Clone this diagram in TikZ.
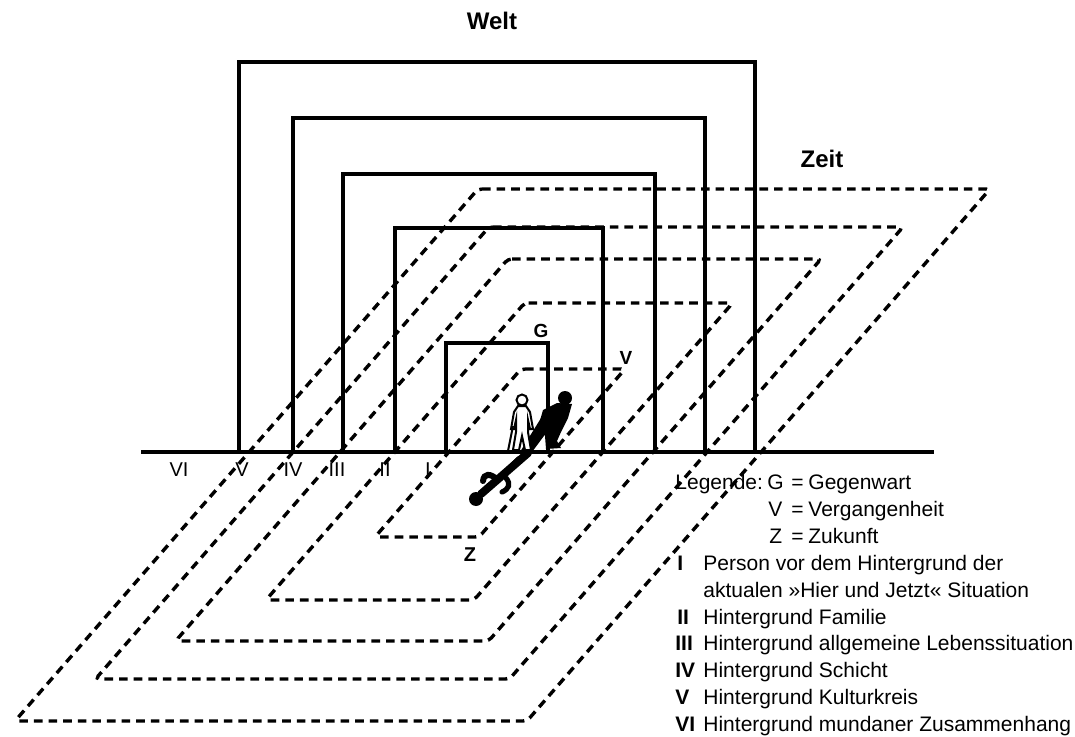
\documentclass[tikz,border=0pt]{standalone}
\usepackage{fontspec}
\setmainfont{Liberation Sans}
\begin{document}
\begin{tikzpicture}[x=0.5pt,y=-0.5pt,
  solidline/.style={line width=1.6pt, line join=miter},
  dashline/.style={line width=1.7pt, dash pattern=on 4.3pt off 3pt, rounded corners=2pt},
  lbl/.style={inner sep=0pt, font=\fontsize{10}{12}\selectfont},
  small/.style={inner sep=0pt, font=\fontsize{9.5}{11}\selectfont\bfseries},
  zlbl/.style={inner sep=0pt, font=\fontsize{10}{12}\selectfont\bfseries},
  big/.style={inner sep=0pt, font=\fontsize{12}{14}\selectfont\bfseries},
  leg/.style={inner sep=0pt, anchor=base west, font=\fontsize{10.5}{13}\selectfont},
  legnum/.style={leg, font=\fontsize{10.5}{13}\selectfont\bfseries},
]
\useasboundingbox (0,0) rectangle (1075,737);

% ground line
\coordinate (gl) at (141,452);
\coordinate (gr) at (934,452);
\draw[solidline] (gl) -- (gr);

% nested open rectangles (Welt)
\draw[solidline] (446,452) -- (446,343) -- (548,343) -- (548,452);
\draw[solidline] (395,452) -- (395,228) -- (603,228) -- (603,452);
\draw[solidline] (343,452) -- (343,174) -- (655,174) -- (655,452);
\draw[solidline] (293,452) -- (293,118) -- (705,118) -- (705,452);
\draw[solidline] (239,452) -- (239,62) -- (755,62) -- (755,452);

% dashed parallelograms (Zeit)
\draw[dashline] (521,369) -- (625,369) -- (479,537) -- (375,537) -- cycle;
\draw[dashline] (524.6,303) -- (732.6,303) -- (474,600) -- (266,600) -- cycle;
\draw[dashline] (508,259) -- (821,259) -- (488.6,641) -- (175.6,641) -- cycle;
\draw[dashline] (489,227) -- (903,227) -- (509.5,679) -- (95.5,679) -- cycle;
\draw[dashline] (478,189) -- (990,189) -- (527,721) -- (15,721) -- cycle;

% person with shadows
% black figure behind
\fill (565,398) circle (7);
\fill (557,403) -- (572,404) -- (568,418) -- (561,432) -- (557,441) -- (561,448) -- (546,449)
      -- (545,436) -- (539,424) -- (543,410) -- cycle;
% diagonal dark band
\fill (546,410) -- (558,417) -- (532,452) -- (520,452) -- cycle;
% ground shadow
\draw[line width=4pt, line cap=round] (528,453) -- (481,494);
\draw[line width=3pt, line cap=round] (519,459) -- (498,480) .. controls (490,473) and (484,473) .. (483,481);
\draw[line width=2.6pt, line cap=round] (506,478) .. controls (511,484) and (509,489) .. (502,492);
\fill (476,499) circle (7);
% white person
\filldraw[fill=white, line width=1pt] (522,400) circle (5.5);
\filldraw[fill=white, line width=1pt]
  (518,406) -- (526,406) -- (530,412) -- (533,429) -- (530,429) -- (528,420)
  -- (528,432) -- (531,450) -- (525,450) -- (522,436) -- (519,450) -- (513,450)
  -- (516,432) -- (516,420) -- (514,429) -- (511,429) -- (514,412) -- cycle;
\draw[line width=1pt] (513,426) -- (508,451);

% labels
\node[big] (welt) at (492,21) {Welt};
\node[big] (zeit) at (822,159) {Zeit};
\node[small] (g) at (541,331) {G};
\node[small] (v) at (626,358) {V};
\node[zlbl] (z) at (470,555) {Z};
\node[lbl] (r6) at (179,470) {VI};
\node[lbl] (r5) at (242,470) {V};
\node[lbl] (r4) at (293,470) {IV};
\node[lbl] (r3) at (337,470) {III};
\node[lbl] (r2) at (385,470) {II};
\node[lbl] (r1) at (428,470) {I};

% legend
\node[leg] (legh) at (675,489.5) {Legende:};
\node[leg] (lg) at (767,489.5) {G};
\node[leg] (lge) at (791,489.5) {=};
\node[leg] (lgt) at (808,489.5) {Gegenwart};
\node[leg] (lv) at (768,516.4) {V};
\node[leg] (lve) at (791,516.4) {=};
\node[leg] (lvt) at (808,516.4) {Vergangenheit};
\node[leg] (lz) at (769,543.3) {Z};
\node[leg] (lze) at (791,543.3) {=};
\node[leg] (lzt) at (808,543.3) {Zukunft};
\node[legnum] (n1) at (677,570.2) {I};
\node[leg] (t1) at (703,570.2) {Person vor dem Hintergrund der};
\node[leg] (t1b) at (703,597.1) {aktualen »Hier und Jetzt« Situation};
\node[legnum] (n2) at (677,624) {II};
\node[leg] (t2) at (703,624) {Hintergrund Familie};
\node[legnum] (n3) at (675,650.9) {III};
\node[leg] (t3) at (703,650.9) {Hintergrund allgemeine Lebenssituation};
\node[legnum] (n4) at (675,677.8) {IV};
\node[leg] (t4) at (703,677.8) {Hintergrund Schicht};
\node[legnum] (n5) at (675,704.7) {V};
\node[leg] (t5) at (703,704.7) {Hintergrund Kulturkreis};
\node[legnum] (n6) at (675,731.6) {VI};
\node[leg] (t6) at (703,731.6) {Hintergrund mundaner Zusammenhang};
\end{tikzpicture}
\end{document}
